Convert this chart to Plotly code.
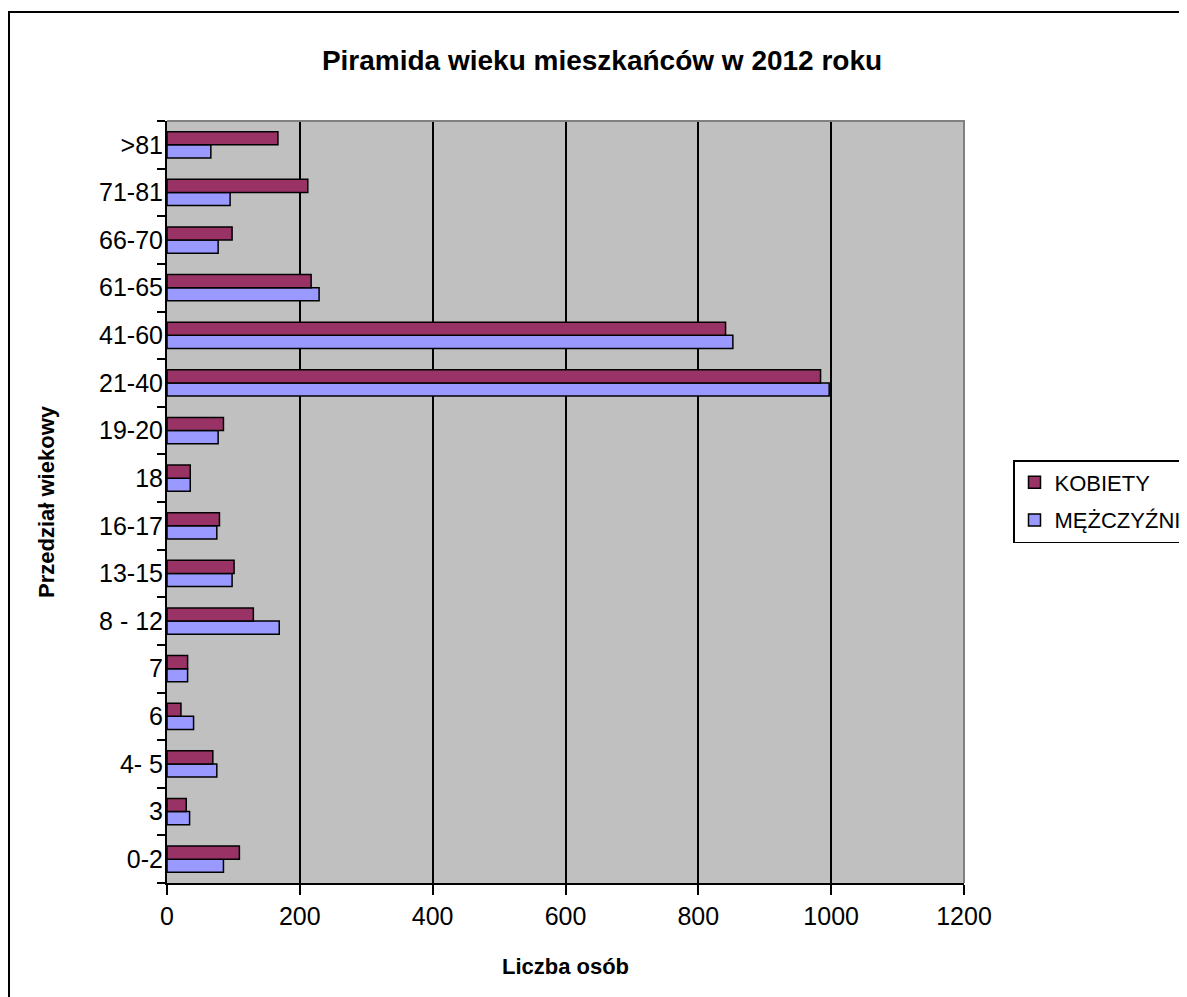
import plotly.graph_objects as go

categories = ["0-2", "3", "4- 5", "6", "7", "8 - 12", "13-15", "16-17", "18",
              "19-20", "21-40", "41-60", "61-65", "66-70", "71-81", ">81"]
kobiety = [109, 29, 69, 21, 31, 130, 101, 79, 35, 85, 984, 841, 217, 98, 212, 167]
mezczyzni = [85, 34, 75, 40, 31, 169, 98, 75, 35, 77, 997, 852, 229, 77, 95, 66]
x_ticks = [0, 200, 400, 600, 800, 1000, 1200]

FONT = "Liberation Sans, Arial, sans-serif"

fig = go.Figure()
fig.add_trace(go.Bar(
    y=categories, x=mezczyzni, orientation="h", name="MĘŻCZYŹNI",
    marker=dict(color="#9999FF", line=dict(color="black", width=1.5)),
    legendrank=2, legendgroup="m",
))
fig.add_trace(go.Bar(
    y=categories, x=kobiety, orientation="h", name="KOBIETY",
    marker=dict(color="#993366", line=dict(color="black", width=1.5)),
    legendrank=1, legendgroup="k",
))

# page has an 8px body margin -> figure coordinates are screen - 8
OFF = 8
W, H = 1187, 997
L, R, T, B = 167 - OFF, 964 - OFF, 121 - OFF, 883 - OFF
pw, ph = R - L, B - T


def px_x(p):
    return (p - OFF - L) / pw


def px_y(p):
    return (B - (p - OFF)) / ph


fig.update_layout(
    width=W, height=H,
    margin=dict(l=L, r=W - R, t=T, b=H - B, autoexpand=False),
    paper_bgcolor="white",
    plot_bgcolor="#C0C0C0",
    barmode="group",
    bargap=0.45,
    bargroupgap=0,
    font=dict(family=FONT, color="black", size=25),
    title=dict(
        text="<b>Piramida wieku mieszkańców w 2012 roku</b>",
        x=(602 - OFF) / W, xanchor="center", y=1 - (60 - OFF) / H, yanchor="middle",
        font=dict(size=28, family=FONT, color="black"),
    ),
    xaxis=dict(
        range=[0, 1200], tickvals=x_ticks, ticktext=[str(v) for v in x_ticks],
        showgrid=True, gridcolor="black", gridwidth=1.5,
        showline=True, linecolor="black", linewidth=2,
        ticks="outside", ticklen=10, tickwidth=1.5, tickcolor="black",
        zeroline=False,
        title=dict(text="<b>Liczba osób</b>", font=dict(size=22, family=FONT), standoff=30),
        tickfont=dict(size=25, family=FONT),
    ),
    yaxis=dict(
        type="category", categoryorder="array", categoryarray=categories,
        showgrid=False, showline=True, linecolor="black", linewidth=2,
        ticks="outside", ticklen=8, tickwidth=1.5, tickcolor="black",
        tickson="boundaries", ticklabelstandoff=-3,
        title=dict(text="<b>Przedział wiekowy</b>", font=dict(size=22, family=FONT), standoff=38),
        tickfont=dict(size=25, family=FONT),
    ),
    legend=dict(
        x=px_x(1013), y=px_y(460), xanchor="left", yanchor="top",
        bordercolor="black", borderwidth=1.5, bgcolor="white",
        font=dict(size=22, family=FONT), tracegroupgap=6,
        itemwidth=30,
    ),
    showlegend=True,
)

# grey top & right border of plot area
fig.add_shape(type="path", xref="paper", yref="paper",
              path="M 0,1 L 1,1 L 1,0", line=dict(color="#808080", width=2))
# outer chart frame
fig.add_shape(type="rect", xref="paper", yref="paper",
              x0=px_x(9), y0=px_y(1010), x1=px_x(1200), y1=px_y(12),
              line=dict(color="black", width=2), layer="below")

fig.write_html("out.html")
